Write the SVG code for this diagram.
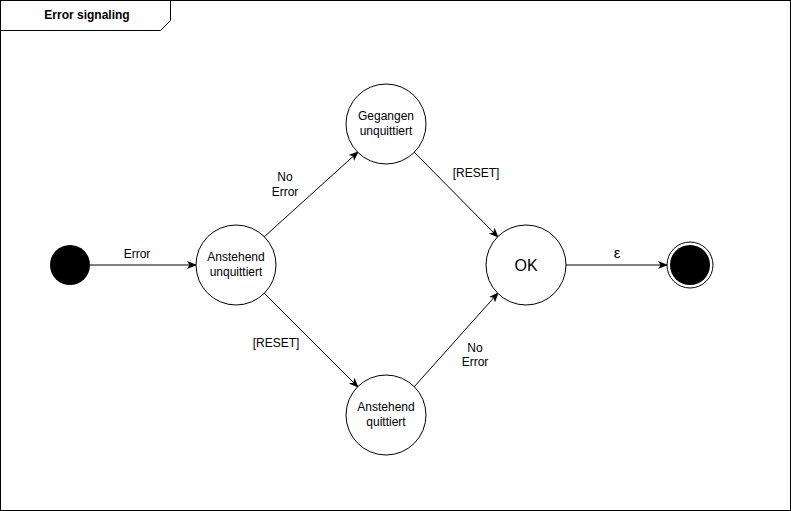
<svg xmlns="http://www.w3.org/2000/svg" width="791" height="511" viewBox="0 0 791 511">
<defs>
<style>
text{font-family:"Liberation Sans",Arial,sans-serif;font-size:12px;fill:#000;text-anchor:middle}
.st{fill:#fff;stroke:#000;stroke-width:1}
.e{stroke:#000;stroke-width:1;fill:none;marker-end:url(#a)}
</style>
<marker id="a" viewBox="0 0 10 10" refX="9" refY="5" markerWidth="10" markerHeight="10" markerUnits="userSpaceOnUse" orient="auto">
<path d="M0,1 L10,5 L0,9 L2.5,5 Z" fill="#000"/>
</marker>
</defs>
<rect x="0.5" y="0.5" width="790" height="510" fill="#fff" stroke="#000"/>
<path d="M0.5,30.5 H160.5 L170.5,20.5 V0.5" fill="none" stroke="#000"/>
<text x="87" y="19" style="font-weight:bold">Error signaling</text>
<g id="edges">
<line class="e" x1="90" y1="265" x2="196" y2="265"/>
<line class="e" x1="264" y1="237" x2="358" y2="152"/>
<line class="e" x1="264" y1="293" x2="358" y2="387"/>
<line class="e" x1="414" y1="152" x2="498" y2="237"/>
<line class="e" x1="414" y1="387" x2="498" y2="293"/>
<line class="e" x1="566" y1="265" x2="667" y2="265"/>
<text x="137" y="258">Error</text>
<text x="285" y="181">No</text>
<text x="285" y="196">Error</text>
<text x="276" y="347">[RESET]</text>
<text x="476" y="177">[RESET]</text>
<text x="475" y="352">No</text>
<text x="475" y="366">Error</text>
<text x="617" y="258" style="font-size:15px">ε</text>
</g>
<g id="start"><circle cx="70" cy="265" r="20" fill="#000"/></g>
<g id="anstehend-unquittiert"><circle class="st" cx="236" cy="265" r="40"/><text x="236" y="261">Anstehend</text><text x="236" y="276">unquittiert</text></g>
<g id="gegangen-unquittiert"><circle class="st" cx="386" cy="124" r="40"/><text x="386" y="120">Gegangen</text><text x="386" y="135">unquittiert</text></g>
<g id="anstehend-quittiert"><circle class="st" cx="386" cy="415" r="40"/><text x="386" y="411">Anstehend</text><text x="386" y="426">quittiert</text></g>
<g id="ok"><circle class="st" cx="526" cy="265" r="40"/><text x="526" y="271" style="font-size:16px">OK</text></g>
<g id="end"><circle class="st" cx="690" cy="265" r="23"/><circle cx="690" cy="265" r="20" fill="#000"/></g>
</svg>
